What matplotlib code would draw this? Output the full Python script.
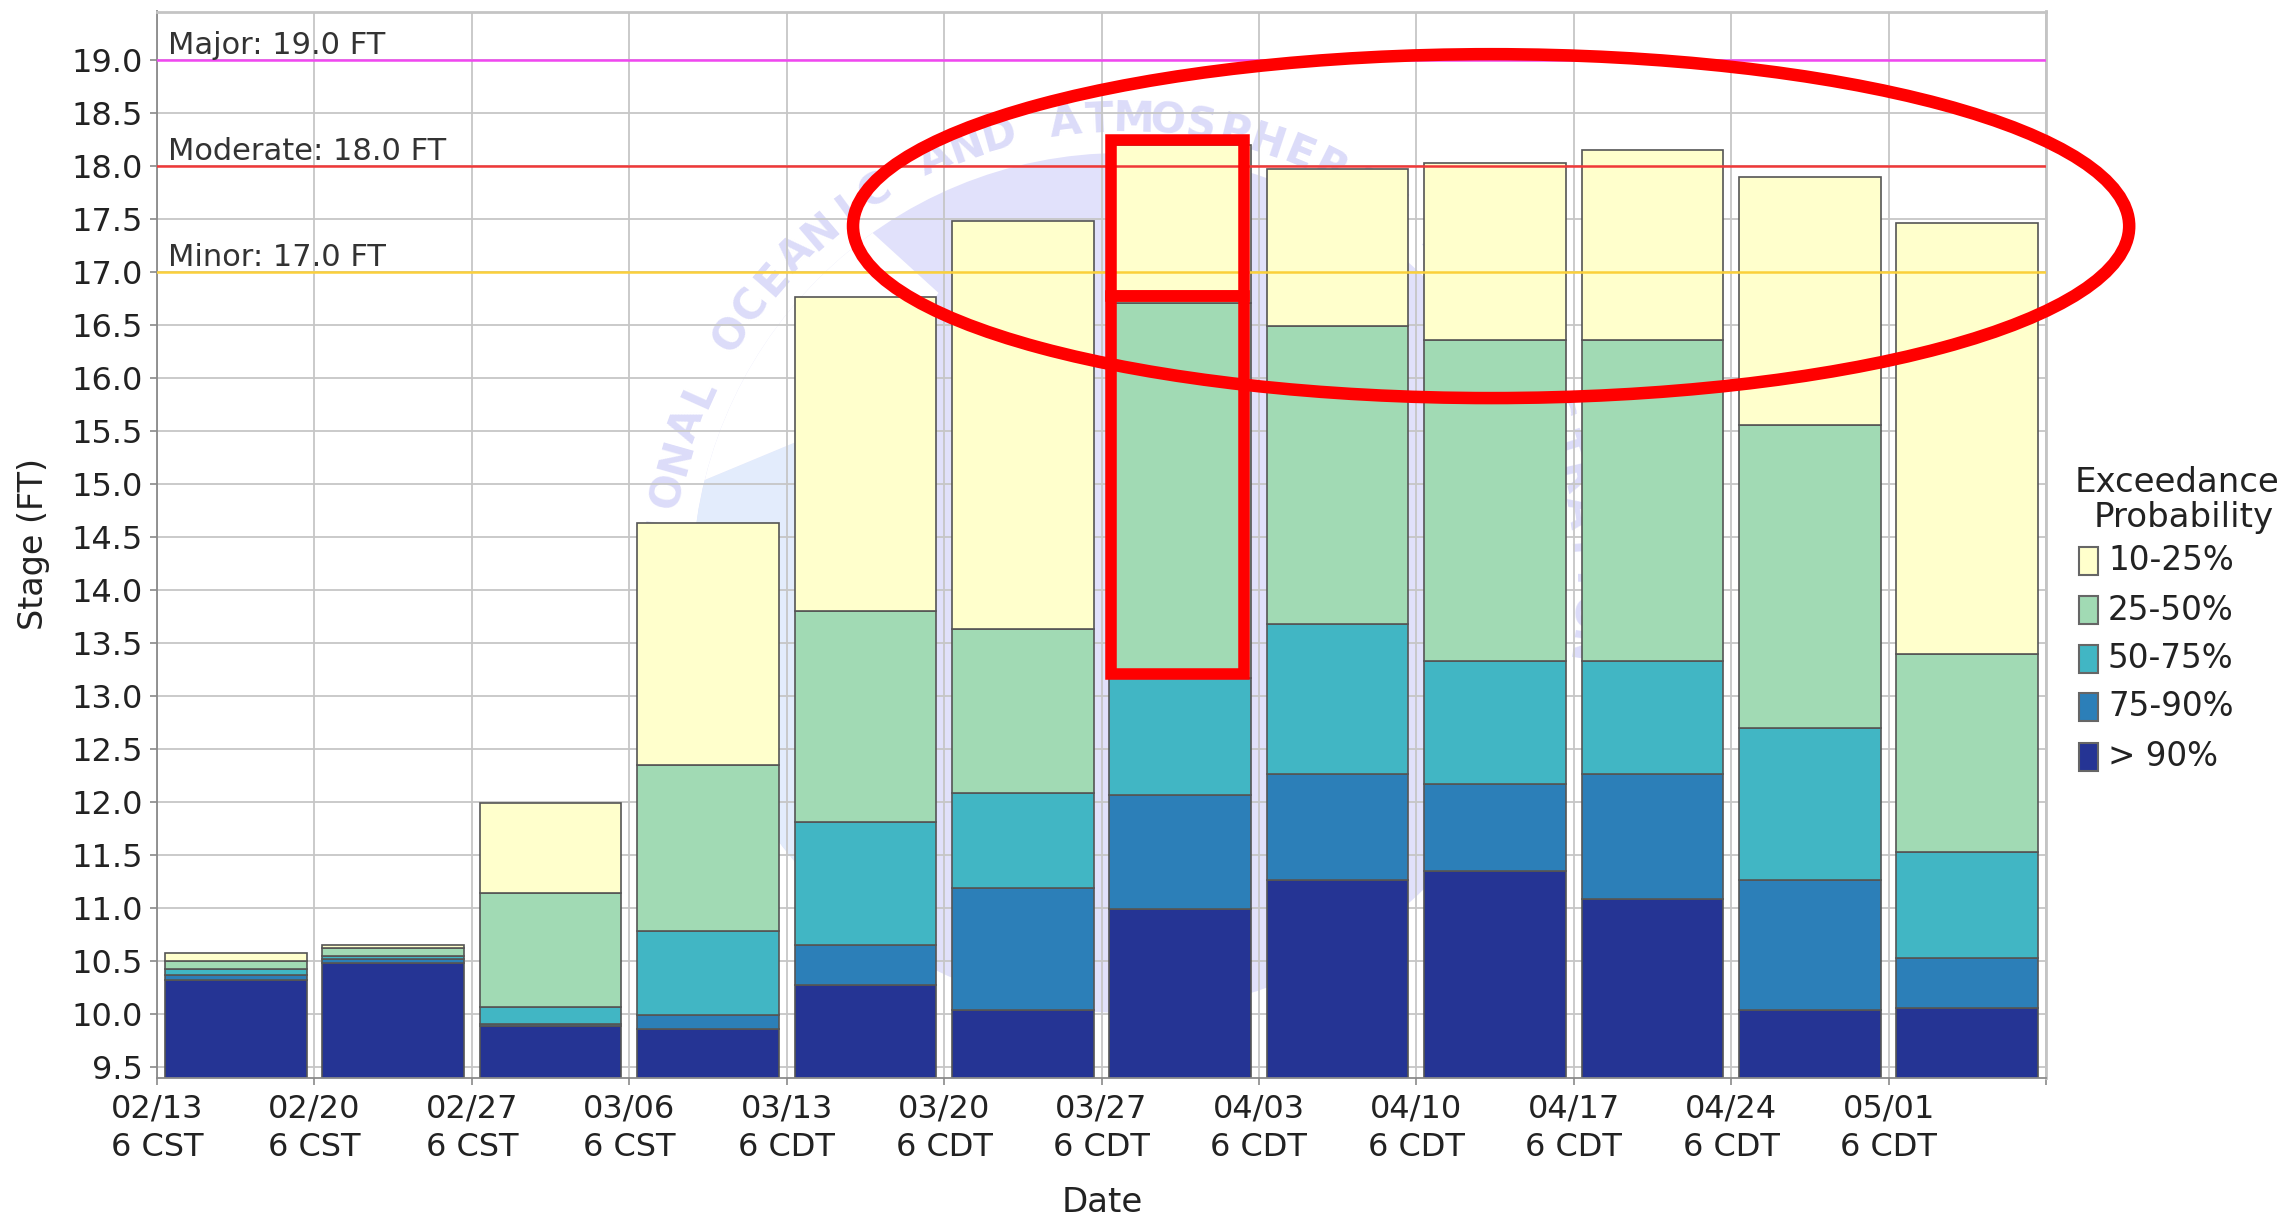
import matplotlib
matplotlib.use("Agg")
import matplotlib.pyplot as plt
import numpy as np
from matplotlib.patches import Rectangle, Ellipse, Circle, Polygon
from matplotlib.transforms import IdentityTransform

# ---------------- data ----------------
dates = ["02/13", "02/20", "02/27", "03/06", "03/13", "03/20",
         "03/27", "04/03", "04/10", "04/17", "04/24", "05/01"]
zones = ["CST", "CST", "CST", "CST", "CDT", "CDT",
         "CDT", "CDT", "CDT", "CDT", "CDT", "CDT"]

# top of each exceedance band (ft)
top_gt90 = [10.32, 10.48, 9.89, 9.86, 10.27, 10.04, 10.99, 11.27, 11.35, 11.09, 10.04, 10.06]
top_75_90 = [10.37, 10.52, 9.91, 9.99, 10.65, 11.19, 12.07, 12.27, 12.17, 12.27, 11.27, 10.53]
top_50_75 = [10.43, 10.55, 10.07, 10.78, 11.81, 12.09, 13.17, 13.68, 13.33, 13.33, 12.70, 11.53]
top_25_50 = [10.50, 10.62, 11.14, 12.35, 13.80, 13.63, 16.71, 16.49, 16.36, 16.36, 15.56, 13.40]
top_10_25 = [10.58, 10.65, 11.99, 14.63, 16.77, 17.48, 18.20, 17.97, 18.03, 18.15, 17.90, 17.46]

band_labels = ["> 90%", "75-90%", "50-75%", "25-50%", "10-25%"]
band_colors = ["#253494", "#2c7fb8", "#41b6c4", "#a1dab4", "#ffffcc"]

flood_names = ["Major", "Moderate", "Minor"]
flood_stages = [19.0, 18.0, 17.0]
flood_colors = ["#f048f0", "#f03838", "#fbd03a"]

yticks = np.arange(9.5, 19.01, 0.5)

# ---------------- figure ----------------
W, H = 2285, 1219
fig = plt.figure(figsize=(W / 100, H / 100), dpi=100)
fig.patch.set_facecolor("white")
plt.rcParams["font.family"] = ["DejaVu Sans"]

ax_l, ax_r, ax_t, ax_b = 157, 2046, 11.5, 1077.7
ax = fig.add_axes([ax_l / W, 1 - ax_b / H, (ax_r - ax_l) / W, (ax_b - ax_t) / H])
ax.set_facecolor("white")

n = len(dates)
x = np.arange(n) + 0.5
ax.set_xlim(0, n)
ax.set_ylim(9.40, 19.46)

# ---------------- watermark (faint NOAA style logo) ----------------
s = W / 1568.0
def disp(xs, ys):
    return xs * s, H - ys * s

cx, cy = disp(770, 400)
R_disk = 295 * s
ID = IdentityTransform()
disk = Circle((cx, cy), R_disk, transform=ID, facecolor="#e1e1fb", edgecolor="none", zorder=0.1)
ax.add_patch(disk)
clipc = Circle((cx, cy), R_disk, transform=ID, facecolor="none", edgecolor="none")
ax.add_patch(clipc)
clipc.set_visible(False)
lb = Polygon([disp(*p) for p in [(470, 335), (547, 303), (600, 262), (620, 300), (620, 760), (400, 760), (400, 335)]],
             closed=True, transform=ID, facecolor="#e3ecfc", edgecolor="none", zorder=0.15)
ax.add_patch(lb)
lb.set_clip_path(clipc)
wing = Polygon([disp(*p) for p in [(588, 150), (644, 201), (600, 262), (547, 303), (470, 335), (400, 335), (400, 150)]],
               closed=True, transform=ID, facecolor="white", edgecolor="none", zorder=0.16)
ax.add_patch(wing)
wing.set_clip_path(clipc)

ring_text = "NATIONAL OCEANIC AND ATMOSPHERIC ADMINISTRATION"
R_txt = 318 * s
ang0 = 185.2
dang = 4.2
for i, ch in enumerate(ring_text):
    if ch == " ":
        continue
    a = np.deg2rad(ang0 - i * dang)
    ax.text(cx + R_txt * np.cos(a), cy + R_txt * np.sin(a), ch, transform=ID,
            rotation=np.rad2deg(a) - 90, rotation_mode="anchor", ha="center", va="center",
            fontsize=30, fontweight="bold", color="#dcdcf9", zorder=0.2, clip_on=True)

# ---------------- grid ----------------
ax.set_axisbelow(True)
ax.set_yticks(yticks)
ax.set_yticklabels([f"{v:.1f}" for v in yticks])
ax.set_xticks(np.arange(n + 1))
ax.set_xticklabels([f"{d}\n6 {z}" for d, z in zip(dates, zones)] + [""], linespacing=1.29)
ax.grid(True, color="#c6c6c6", linewidth=1.3, zorder=0.5)

# ---------------- stacked bars ----------------
tops = [top_gt90, top_75_90, top_50_75, top_25_50, top_10_25]
bottom = np.zeros(n)
for t, c in zip(tops, band_colors):
    t = np.asarray(t)
    ax.bar(x, t - bottom, bottom=bottom, width=0.9, color=c,
           edgecolor="#555555", linewidth=1.2, zorder=2)
    bottom = t

# ---------------- flood thresholds ----------------
for name, lvl, col in zip(flood_names, flood_stages, flood_colors):
    ax.axhline(lvl, color=col, linewidth=1.8, zorder=3)
    ax.annotate(f"{name}: {lvl:.1f} FT", xy=(0.07, lvl), xytext=(0, 4.5),
                textcoords="offset points", ha="left", va="baseline",
                fontsize=22, color="#333333", zorder=4)

# ---------------- axes styling ----------------
for side in ["left", "bottom"]:
    ax.spines[side].set_color("#8a8a8a")
    ax.spines[side].set_linewidth(1.3)
for side in ["top", "right"]:
    ax.spines[side].set_color("#c4c4c4")
    ax.spines[side].set_linewidth(2.0)
ax.tick_params(axis="y", length=4.8, width=1.2, color="#8a8a8a", pad=5.5,
               labelsize=23, labelcolor="#222222")
ax.tick_params(axis="x", length=5.0, width=1.2, color="#8a8a8a", pad=6.5,
               labelsize=23, labelcolor="#222222")

fig.text(33 / W, 1 - 544 / H, "Stage (FT)", rotation=90, ha="center", va="center",
         fontsize=24, color="#222222")
fig.text(1102 / W, 1 - 1203 / H, "Date", ha="center", va="center",
         fontsize=24.5, color="#222222")

# ---------------- legend (manual) ----------------
fig.text(2177 / W, 1 - 482 / H, "Exceedance", ha="center", va="center", fontsize=24.5, color="#222222")
fig.text(2184 / W, 1 - 518 / H, "Probability", ha="center", va="center", fontsize=24.5, color="#222222")
leg_rows = [561, 610, 659, 707, 757]
for yy, lab, col in zip(leg_rows, band_labels[::-1], band_colors[::-1]):
    fig.patches.append(Rectangle((2079 / W, 1 - (yy + 14) / H), 19 / W, 28 / H,
                                 transform=fig.transFigure, facecolor=col,
                                 edgecolor="#666666", linewidth=1.5))
    fig.text(2108 / W, 1 - yy / H, lab, ha="left", va="center", fontsize=23.5, color="#222222")

# ---------------- red highlight annotations ----------------
ax.add_patch(Ellipse((8.475, 17.435), 8.107, 3.245, fill=False, edgecolor="#ff0000",
                     linewidth=9, zorder=10, clip_on=False))
ax.add_patch(Rectangle((6.059, 16.775), 0.845, 18.246 - 16.775, fill=False,
                       edgecolor="#ff0000", linewidth=8.3, joinstyle="miter", zorder=10, clip_on=False))
ax.add_patch(Rectangle((6.059, 13.209), 0.845, 16.775 - 13.209, fill=False,
                       edgecolor="#ff0000", linewidth=8.3, joinstyle="miter", zorder=10, clip_on=False))

fig.savefig("out.png", dpi=100, facecolor="white")
